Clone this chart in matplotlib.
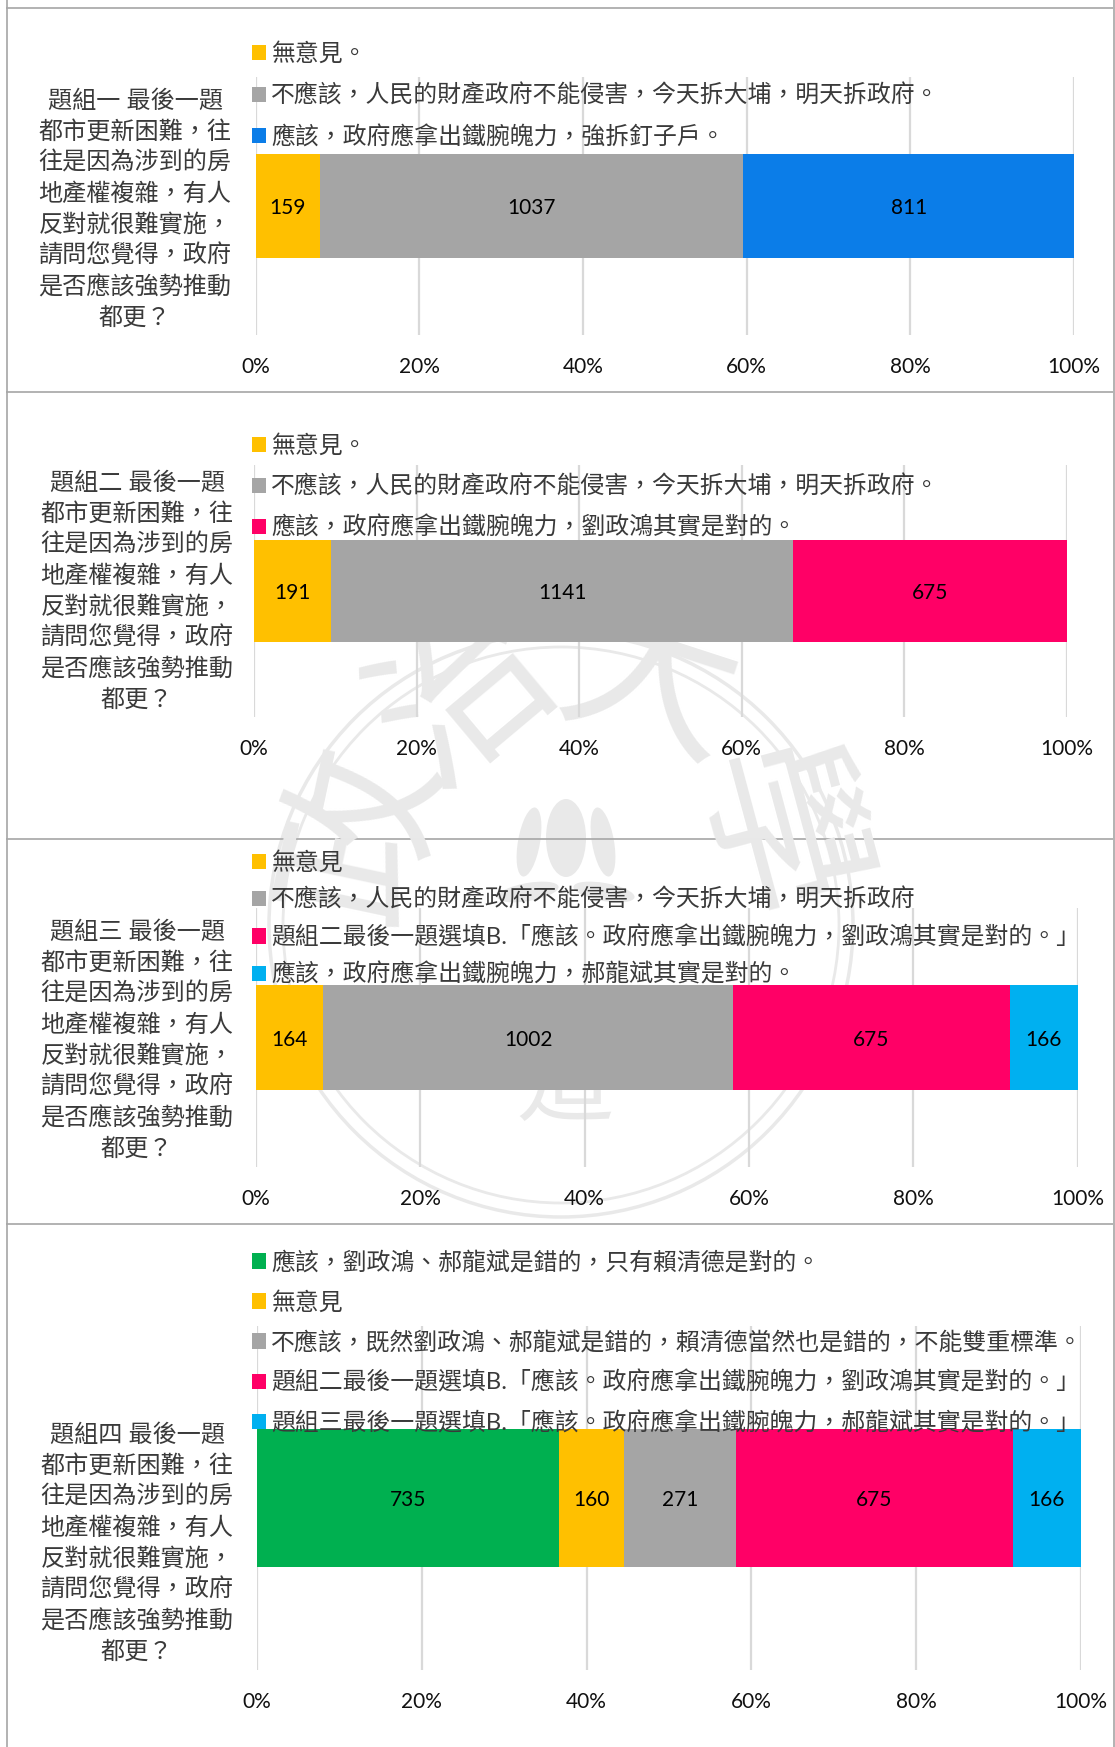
import matplotlib
matplotlib.use('Agg')
import matplotlib.pyplot as plt
from matplotlib.patches import Ellipse
from matplotlib.ticker import PercentFormatter

plt.rcParams['font.family'] = ['Lato', 'Noto Sans CJK TC', 'DejaVu Sans']

W = 1115
H = 1747

#data
question = ['都市更新困難，往', '往是因為涉到的房', '地產權複雜，有人', '反對就很難實施，',
            '請問您覺得，政府', '是否應該強勢推動', '都更？']
titles = ['題組一 最後一題', '題組二 最後一題', '題組三 最後一題', '題組四 最後一題']

yellow = '#FFC000'
grey = '#A5A5A5'
blue = '#0B7DE8'
pink = '#FF0066'
cyan = '#00B0F0'
green = '#00B050'

values1 = [159, 1037, 811]
labels1 = ['無意見。', '不應該，人民的財產政府不能侵害，今天拆大埔，明天拆政府。', '應該，政府應拿出鐵腕魄力，強拆釘子戶。']
colors1 = [yellow, grey, blue]

values2 = [191, 1141, 675]
labels2 = ['無意見。', '不應該，人民的財產政府不能侵害，今天拆大埔，明天拆政府。', '應該，政府應拿出鐵腕魄力，劉政鴻其實是對的。']
colors2 = [yellow, grey, pink]

values3 = [164, 1002, 675, 166]
labels3 = ['無意見', '不應該，人民的財產政府不能侵害，今天拆大埔，明天拆政府',
           '題組二最後一題選填B.「應該。政府應拿出鐵腕魄力，劉政鴻其實是對的。」',
           '應該，政府應拿出鐵腕魄力，郝龍斌其實是對的。']
colors3 = [yellow, grey, pink, cyan]

values4 = [735, 160, 271, 675, 166]
labels4 = ['應該，劉政鴻、郝龍斌是錯的，只有賴清德是對的。', '無意見',
           '不應該，既然劉政鴻、郝龍斌是錯的，賴清德當然也是錯的，不能雙重標準。',
           '題組二最後一題選填B.「應該。政府應拿出鐵腕魄力，劉政鴻其實是對的。」',
           '題組三最後一題選填B.「應該。政府應拿出鐵腕魄力，郝龍斌其實是對的。」']
colors4 = [green, yellow, grey, pink, cyan]

#layout in pixels: plot left, right, top, bottom, legend top, row gap, question y
panels = [
    (values1, labels1, colors1, 255.5, 1074, 77, 335, 42.5, 42.5, 100),
    (values2, labels2, colors2, 254, 1066.5, 465, 717, 434, 42, 482),
    (values3, labels3, colors3, 256, 1077.5, 908, 1167, 851, 38.3, 931),
    (values4, labels4, colors4, 257, 1081, 1326, 1670, 1250.5, 41.2, 1434),
]
lines_y = [8, 392, 839, 1224]

fig = plt.figure(figsize=(W / 100, H / 100), dpi=100, facecolor='white')

#background layer in pixel coords
bg = fig.add_axes([0, 0, 1, 1])
bg.set_xlim(0, W)
bg.set_ylim(H, 0)
bg.axis('off')

#watermark seal
seal = '#E9E9E9'
bg.add_patch(Ellipse((561, 925), 584, 584, fill=False, ec=seal, lw=2.5))
bg.add_patch(Ellipse((561, 925), 556, 556, fill=False, ec=seal, lw=2))
for cx, cy, w, h, ang in [(566, 838, 40, 78, 0), (529, 842, 22, 70, 10), (603, 842, 22, 70, -10),
                          (528, 892, 62, 18, -10), (604, 892, 62, 18, 10)]:
    bg.add_patch(Ellipse((cx, cy), w, h, angle=ang, fc=seal, ec='none'))
for ch, cx, cy, rot, size in [('治', 465, 695, 40, 125), ('大', 650, 685, -18, 125),
                              ('政', 365, 835, 78, 125), ('學', 770, 835, -75, 125),
                              ('道', 565, 1085, 0, 70)]:
    bg.text(cx, cy, ch, color=seal, fontsize=size, rotation=rot, ha='center', va='center')

#frame lines
for y in lines_y:
    bg.plot([6, 1113], [y, y], color='#A6A6A6', lw=1.2, solid_capstyle='butt')
bg.plot([6.5, 6.5], [0, H], color='#A6A6A6', lw=1.2)
bg.plot([1113.5, 1113.5], [0, H], color='#A6A6A6', lw=1.2)

for n, p in enumerate(panels):
    values, labels, colors, left, right, top, bottom, leg_top, gap, qy = p

    #question text on the left
    rows = [titles[n]] + question
    cx = 135 if n == 0 else 137
    for k, row in enumerate(rows):
        bg.text(cx, qy + k * 31.1, row, fontsize=17.4, color='#3A3A3A', ha='center', va='center')

    ax = fig.add_axes([left / W, 1 - bottom / H, (right - left) / W, (bottom - top) / H])
    ax.patch.set_alpha(0)
    for s in ax.spines.values():
        s.set_visible(False)

    total = sum(values)
    start = 0
    for v, lab, c in zip(values, labels, colors):
        b = ax.barh(0, v / total, left=start, height=0.403, color=c, label=lab, zorder=3)
        txt = ax.bar_label(b, labels=[str(v)], label_type='center', fontsize=15, color='black')
        txt[0].xyann = (0, -1.5)
        start += v / total

    ax.set_xlim(0, 1)
    ax.set_ylim(-0.5, 0.5)
    ax.set_yticks([])
    ax.set_xticks([0, 0.2, 0.4, 0.6, 0.8, 1.0])
    ax.xaxis.set_major_formatter(PercentFormatter(1.0, decimals=0))
    ax.tick_params(axis='x', length=0, pad=16, labelsize=15, labelcolor='#111111')
    ax.grid(axis='x', color='#D9D9D9', lw=1.6, zorder=0)
    ax.set_axisbelow(True)

    leg = ax.legend(loc='upper left', bbox_to_anchor=(252 / W, 1 - leg_top / H),
                    bbox_transform=fig.transFigure, frameon=False, fontsize=17.2,
                    borderpad=0, borderaxespad=0, handlelength=0.6, handleheight=0.6,
                    handletextpad=0.2, labelspacing=(gap - 24) / 24,
                    labelcolor='#3A3A3A')
    leg.set_zorder(5)

fig.savefig('out.png', dpi=100)
